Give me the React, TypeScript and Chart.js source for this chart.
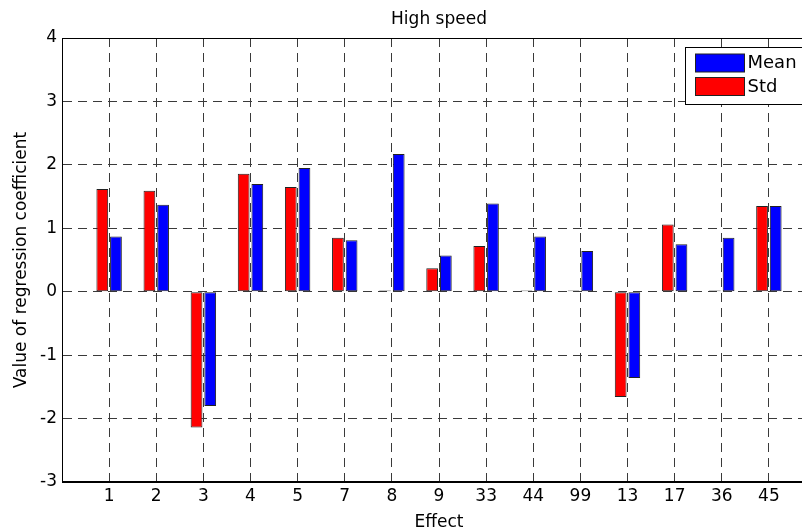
import React, { useEffect, useRef } from 'react';
import { Chart, registerables } from 'chart.js';

Chart.register(...registerables);

// ---- data ----
const effects = ['1', '2', '3', '4', '5', '7', '8', '9', '33', '44', '99', '13', '17', '36', '45'];
const stdValues = [1.62, 1.59, -2.14, 1.86, 1.65, 0.85, 0.02, 0.37, 0.72, 0.02, 0.02, -1.66, 1.06, 0.02, 1.35];
const meanValues = [0.87, 1.37, -1.80, 1.70, 1.95, 0.81, 2.17, 0.57, 1.39, 0.87, 0.64, -1.36, 0.75, 0.85, 1.35];
const yMin = -3;
const yMax = 4;
const yStep = 1;
const chartTitle = 'High speed';
const xAxisTitle = 'Effect';
const yAxisTitle = 'Value of regression coefficient';
const seriesNames = ['Std', 'Mean'];
const seriesColors = ['#ff0000', '#0000ff'];

const FONT = "'DejaVu Sans', 'Liberation Sans', Arial, sans-serif";
const GRID = '#3a3a3a';

const boxAndLegend = {
  id: 'boxAndLegend',
  afterDraw(chart: any) {
    const { ctx, chartArea: a } = chart;
    ctx.save();
    ctx.strokeStyle = '#000';
    ctx.lineWidth = 1;
    ctx.setLineDash([]);
    const l = Math.round(a.left) + 0.5;
    const t = Math.round(a.top) + 0.5;
    const r = Math.round(a.right) - 0.5;
    const b = Math.round(a.bottom) - 0.5;
    ctx.strokeRect(l, t, r - l, b - t);

    const w = 122;
    const h = 57;
    const x0 = Math.round(a.right - 9 - w) + 0.5;
    const y0 = Math.round(a.top + 9) + 0.5;
    ctx.fillStyle = '#fff';
    ctx.fillRect(x0, y0, w, h);
    ctx.strokeStyle = '#000';
    ctx.strokeRect(x0, y0, w, h);
    const order = [1, 0];
    ctx.font = `18px ${FONT}`;
    ctx.textBaseline = 'middle';
    ctx.textAlign = 'left';
    order.forEach((di, i) => {
      const ds = chart.data.datasets[di];
      const sy = y0 + 6.5 + i * 23.5;
      ctx.fillStyle = ds.backgroundColor;
      ctx.fillRect(x0 + 10, sy, 49, 18);
      ctx.strokeStyle = '#222';
      ctx.strokeRect(x0 + 10, sy, 49, 18);
      ctx.fillStyle = '#000';
      ctx.fillText(ds.label, x0 + 62, sy + 9.5);
    });
    ctx.restore();
  },
};

export default function App() {
  const ref = useRef<HTMLCanvasElement | null>(null);

  useEffect(() => {
    if (!ref.current) return;
    Chart.defaults.font.family = FONT;
    const labels = ['', ...effects, ''];
    const chart = new Chart(ref.current, {
      type: 'bar',
      data: {
        labels,
        datasets: [
          {
            label: seriesNames[0],
            data: [null, ...stdValues, null],
            backgroundColor: seriesColors[0],
            borderColor: '#222',
            borderWidth: 1,
            borderSkipped: false,
            categoryPercentage: 0.58,
            barPercentage: 0.86,
          },
          {
            label: seriesNames[1],
            data: [null, ...meanValues, null],
            backgroundColor: seriesColors[1],
            borderColor: '#222',
            borderWidth: 1,
            borderSkipped: false,
            categoryPercentage: 0.58,
            barPercentage: 0.86,
          },
        ],
      },
      options: {
        responsive: false,
        animation: false,
        devicePixelRatio: 1,
        layout: { padding: { left: 0, right: 4, top: 0, bottom: 0 } },
        plugins: {
          legend: { display: false },
          tooltip: { enabled: false },
          title: {
            display: true,
            text: chartTitle,
            fullSize: false,
            color: '#000',
            font: { family: FONT, size: 17, weight: 'normal', lineHeight: 1 },
            padding: { top: 11, bottom: 10 },
          },
        },
        scales: {
          x: {
            type: 'category',
            offset: false,
            grid: { display: true, offset: false, color: GRID, lineWidth: 1, drawTicks: false },
            border: { display: true, color: '#000', width: 1, dash: [9, 6] },
            ticks: {
              color: '#000',
              font: { family: FONT, size: 17 },
              padding: 4,
              autoSkip: false,
              maxRotation: 0,
            },
            title: {
              display: true,
              text: xAxisTitle,
              color: '#000',
              font: { family: FONT, size: 17, lineHeight: 1 },
              padding: { top: 0, bottom: 0 },
            },
            afterFit(scale: any) {
              scale.height = 49;
            },
          },
          y: {
            min: yMin,
            max: yMax,
            grid: { display: true, color: GRID, lineWidth: 1, drawTicks: false },
            border: { display: true, color: '#000', width: 1, dash: [9, 6] },
            ticks: {
              stepSize: yStep,
              color: '#000',
              font: { family: FONT, size: 17 },
              padding: 5,
            },
            title: {
              display: true,
              text: yAxisTitle,
              color: '#000',
              font: { family: FONT, size: 17, lineHeight: 1 },
              padding: { top: 13.5, bottom: 0 },
            },
            afterFit(scale: any) {
              scale.width = 62;
            },
          },
        },
      },
      plugins: [boxAndLegend],
    });
    return () => chart.destroy();
  }, []);

  return (
    <div
      style={{
        position: 'fixed',
        left: 0,
        top: 0,
        width: 802,
        height: 531,
        overflow: 'hidden',
        background: '#fff',
      }}
    >
      <canvas ref={ref} width={820} height={531} style={{ display: 'block', width: 820, height: 531 }} />
    </div>
  );
}
